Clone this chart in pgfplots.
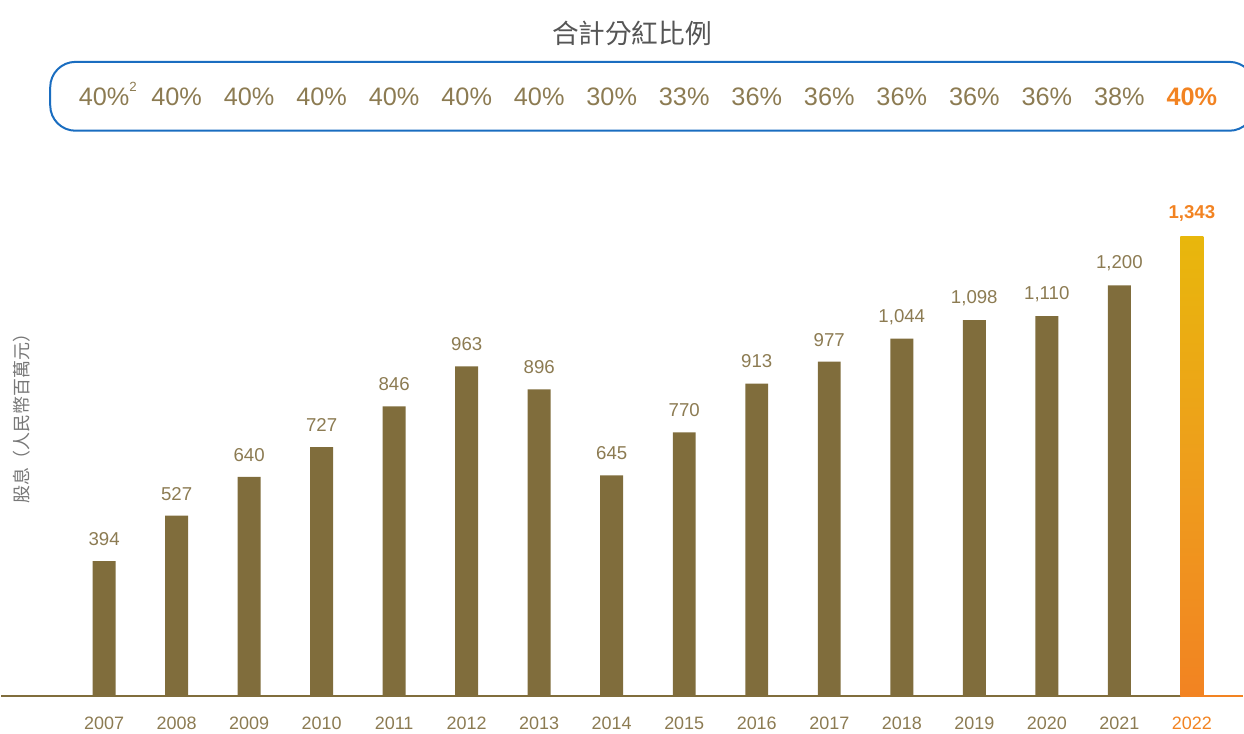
\documentclass[border=0pt]{standalone}
\usepackage{fontspec}
\setmainfont{Liberation Sans}
\newfontfamily\cjk{Noto Sans CJK TC}
\usepackage{pgfplots}
\pgfplotsset{compat=1.18}
\definecolor{barc}{HTML}{806D3C}
\definecolor{txt}{HTML}{8C7B52}
\definecolor{orng}{HTML}{F28322}
\definecolor{yell}{HTML}{E8B70C}
\definecolor{midc}{HTML}{EE9E1C}
\definecolor{boxblue}{HTML}{1A6DC0}
\definecolor{titlec}{HTML}{555555}
\definecolor{ylab}{HTML}{777777}
\begin{document}
\begin{tikzpicture}
\begin{scope}[x=0.75pt,y=-0.75pt]
\path[use as bounding box] (0,0) rectangle (1244,734);
\draw[boxblue, line width=1.5pt, rounded corners=19pt] (49,62) rectangle (1256,131);
\node[font=\cjk\fontsize{20}{20}\selectfont, text=titlec] at (632,33) {合計分紅比例};
\node[rotate=90, font=\cjk\fontsize{13.5}{13.5}\selectfont, text=ylab] at (20,415) {股息（人民幣百萬元）};
\end{scope}
\begin{axis}[
  at={(0pt,-523.125pt)}, anchor=south west,
  scale only axis, width=933pt, height=523.125pt,
  xmin=-1.4174, xmax=15.701, ymin=0, ymax=2033.5,
  clip=false,
  axis x line*=bottom, axis y line=none,
  axis line style={draw=none},
  xtick={0,...,15}, ytick=\empty,
  major tick length=0pt,
  xticklabels={2007,2008,2009,2010,2011,2012,2013,2014,2015,2016,2017,2018,2019,2020,2021,\textcolor{orng}{2022}},
  xticklabel style={font=\fontsize{13.5}{13.5}\selectfont, text=txt, anchor=center, yshift=-20.25pt},
  /pgf/number format/assume math mode=true,
  /pgf/number format/1000 sep={,},
]
\draw[barc, line width=2pt] (axis cs:-1.4174,0) -- (axis cs:15,0);
\draw[orng, line width=2pt] (axis cs:15,0) -- (axis cs:15.701,0);
\addplot[ybar, bar width=17.25pt, bar shift=0pt, fill=barc, draw=none,
  nodes near coords,
  every node near coord/.append style={anchor=center, yshift=16.5pt, font=\fontsize{14}{14}\selectfont, text=txt}]
  coordinates {(0,394) (1,527) (2,640) (3,727) (4,846) (5,963) (6,896) (7,645) (8,770) (9,913) (10,977) (11,1044) (12,1098) (13,1110) (14,1200)};
\addplot[ybar, bar width=17.25pt, bar shift=0pt, draw=none, top color=yell, bottom color=orng, middle color=midc,
  nodes near coords,
  every node near coord/.append style={anchor=center, yshift=17pt, font=\bfseries\fontsize{14}{14}\selectfont, text=orng}]
  coordinates {(15,1343)};
\begin{scope}[every node/.style={font=\fontsize{19}{19}\selectfont, text=txt}]
\node at (axis cs:0,1750.7) {40\%\rlap{\smash{\raisebox{0.55em}{\fontsize{10}{10}\selectfont 2}}}};
\node at (axis cs:1,1750.7) {40\%};
\node at (axis cs:2,1750.7) {40\%};
\node at (axis cs:3,1750.7) {40\%};
\node at (axis cs:4,1750.7) {40\%};
\node at (axis cs:5,1750.7) {40\%};
\node at (axis cs:6,1750.7) {40\%};
\node at (axis cs:7,1750.7) {30\%};
\node at (axis cs:8,1750.7) {33\%};
\node at (axis cs:9,1750.7) {36\%};
\node at (axis cs:10,1750.7) {36\%};
\node at (axis cs:11,1750.7) {36\%};
\node at (axis cs:12,1750.7) {36\%};
\node at (axis cs:13,1750.7) {36\%};
\node at (axis cs:14,1750.7) {38\%};
\node[text=orng, font=\bfseries\fontsize{19}{19}\selectfont] at (axis cs:15,1750.7) {40\%};
\end{scope}
\end{axis}
\end{tikzpicture}
\end{document}
